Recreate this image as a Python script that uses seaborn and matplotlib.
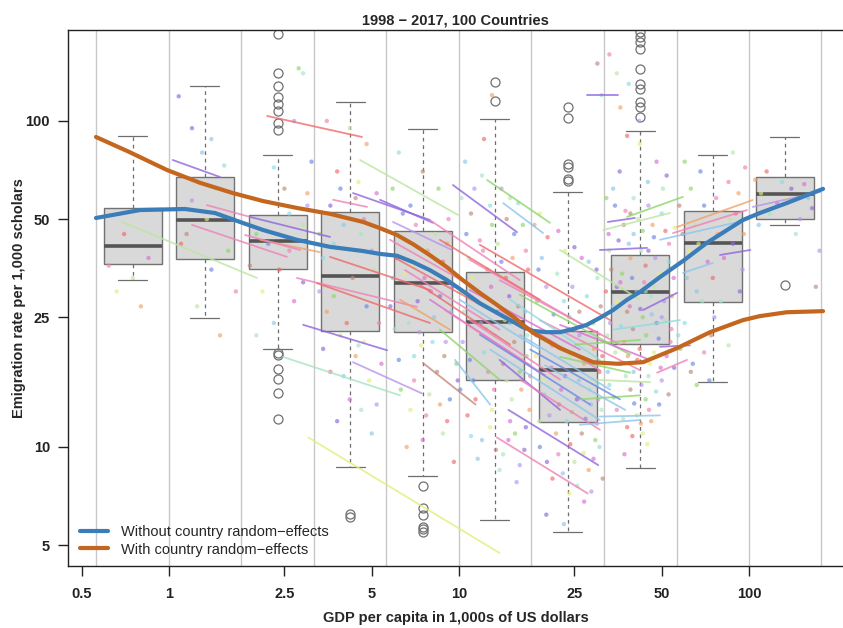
import numpy as np
import pandas as pd
import matplotlib
matplotlib.use("Agg")
import matplotlib.pyplot as plt
import seaborn as sns

sns.set_style("ticks")
plt.rcParams['font.family'] = ['Liberation Sans', 'DejaVu Sans']

# ---------------- data ----------------
title = "1998 \u2212 2017, 100 Countries"
x_label = "GDP per capita in 1,000s of US dollars"
y_label = "Emigration rate per 1,000 scholars"
x_ticks = [0.5, 1, 2.5, 5, 10, 25, 50, 100]
x_tick_labels = ["0.5", "1", "2.5", "5", "10", "25", "50", "100"]
y_ticks = [5, 10, 25, 50, 100]
y_tick_labels = ["5", "10", "25", "50", "100"]

# GDP bin edges (vertical grey lines) and box centres
bin_edges = [0.562, 1.0, 1.778, 3.162, 5.623, 10.0, 17.78, 31.62, 56.23, 100.0, 177.8]
box_centers = [0.75, 1.33, 2.37, 4.22, 7.5, 13.3, 23.7, 42.2, 75.0, 133.0]
box_whislo = [32.5, 24.8, 20.0, 8.7, 8.15, 5.97, 5.47, 8.6, 15.8, 48.0]
box_q1 = [36.4, 37.7, 35.1, 22.7, 22.5, 16.1, 11.9, 20.7, 27.8, 50.1]
box_med = [41.4, 49.7, 42.8, 33.4, 31.9, 24.2, 17.2, 29.9, 42.2, 59.6]
box_q3 = [54.1, 67.2, 51.4, 52.5, 46.0, 34.3, 22.7, 38.8, 53.1, 67.3]
box_whishi = [89.9, 128.0, 78.7, 114.0, 94.3, 101.4, 60.4, 93.2, 78.5, 89.3]
box_fliers = [
    [],
    [],
    [185, 140, 128, 118.7, 112.8, 107.3, 98.4, 93.8, 19.4, 19.2, 17.4, 16.2, 14.6, 12.2],
    [6.24, 6.09],
    [7.6, 6.5, 6.2, 5.7, 5.6, 5.5],
    [131.7, 115.4],
    [110.6, 102.4, 73.6, 72.4, 66.3, 65.6],
    [187, 181, 175, 166, 144, 130, 125, 114.6, 110.6, 103],
    [],
    [31.4],
]

# smoothed curves
blue_gdp = [0.56, 0.794, 1.135, 1.44, 1.757, 2.11, 2.76, 3.59, 4.67, 5.34, 6.11, 6.94, 7.92,
            9.09, 10.3, 11.8, 13.5, 15.4, 16.6, 18.0, 20.1, 22.3, 24.7, 27.6, 30.6, 34.0,
            38.0, 42.1, 49.3, 59.2, 71.6, 95.3, 109, 135, 180]
blue_rate = [50.4, 53.3, 53.7, 52.2, 49.0, 46.3, 43.2, 41.1, 39.9, 39.1, 38.6, 36.9, 34.9,
             32.5, 30.1, 27.6, 25.8, 24.2, 23.3, 22.7, 22.5, 22.5, 23.0, 23.7, 24.9, 26.3,
             28.3, 29.9, 33.2, 37.2, 42.3, 49.7, 52.2, 56.0, 61.9]
orange_gdp = [0.56, 0.73, 0.985, 1.28, 1.66, 2.11, 2.76, 3.59, 4.67, 5.34, 6.11, 6.94, 7.92,
              9.09, 10.3, 11.8, 13.5, 15.4, 16.6, 18.0, 20.1, 22.3, 29.0, 35.1, 43.1, 56.5,
              73.4, 95.3, 109, 135, 180]
orange_rate = [89.3, 80.3, 70.7, 64.6, 60.1, 56.8, 54.1, 51.9, 49.0, 46.9, 44.7, 41.9, 38.8,
               35.6, 32.5, 29.7, 27.3, 25.1, 23.7, 22.4, 21.2, 20.1, 18.2, 18.0, 18.2, 20.1,
               22.5, 24.5, 25.2, 25.9, 26.1]
curve_labels = ["Without country random\u2212effects", "With country random\u2212effects"]

# per-country trajectories (start/end)
seg_gdp_start = [0.689, 1.03, 1.20, 1.35, 1.90, 2.18, 3.68, 4.31, 4.56, 3.59, 2.76, 3.24, 2.90,
                 4.31, 2.47, 3.02, 7.51, 12.5, 9.53, 14.2, 5.34, 5.92, 14.8, 13.5, 27.6, 32.6,
                 30.6, 38.0, 31.4, 56.5, 54.7, 49.3, 59.2, 79.4, 103, 48.2, 49.3, 43.1, 22.3,
                 5.78, 6.02, 6.51, 7.34, 7.94, 8.95, 10.05, 10.9, 11.8, 12.8, 10.9, 11.8, 13.8,
                 16.2, 19.0, 8.59, 9.69, 15.0, 22.3, 6.26, 25.1, 26.1, 30.6, 28.3, 2.06, 1.83,
                 7.92, 8.59, 10.9, 13.8, 16.2, 17.6, 19.8, 13.8, 16.2, 22.3, 34.0, 26.1]
seg_gdp_end = [2.01, 1.50, 2.55, 1.90, 3.59, 4.63, 4.82, 7.94, 9.92, 7.94, 7.16, 7.94, 5.65,
               7.45, 6.26, 13.8, 11.4, 20.6, 15.85, 19.5, 8.13, 9.46, 30.2, 27.8, 35.3, 40.4,
               44.5, 59.2, 53.4, 103, 98.4, 98.4, 75.1, 101, 176, 61.1, 62.6, 56.5, 38.9,
               10.9, 12.8, 13.8, 15.0, 17.6, 19.8, 19.0, 22.3, 28.3, 30.6, 30.6, 33.2, 35.9,
               38.9, 42.1, 13.8, 12.8, 30.6, 45.6, 9.31, 42.1, 42.1, 49.3, 45.6, 3.31, 2.83,
               16.2, 19.0, 26.1, 30.6, 33.2, 35.9, 37.4, 22.3, 30.6, 42.1, 57.8, 42.1]
seg_rate_start = [49.0, 75.9, 48.0, 55.2, 50.8, 103.6, 57.3, 60.1, 75.9, 38.3, 33.0, 31.8, 23.7,
                  18.2, 18.9, 10.7, 18.1, 65.9, 63.6, 56.0, 57.3, 49.0, 13.0, 10.7, 120, 49.0,
                  40.2, 50.8, 46.3, 47.3, 45.3, 43.2, 34.2, 38.8, 54.5, 16.9, 20.3, 26.3, 18.9,
                  43.2, 38.0, 34.9, 31.4, 28.3, 26.3, 28.3, 24.5, 22.1, 19.9, 37.5, 41.7, 32.5,
                  29.3, 24.5, 22.9, 18.5, 28.3, 23.7, 28.3, 20.6, 14.0, 12.4, 16.1, 43.2, 44.7,
                  49.7, 43.2, 30.3, 26.3, 22.1, 19.9, 17.8, 18.5, 16.1, 40.2, 22.9, 11.7]
seg_rate_end = [33.0, 67.3, 38.3, 50.8, 44.1, 89.3, 54.5, 49.7, 51.5, 30.3, 26.9, 24.0, 19.8,
                14.6, 14.4, 4.73, 13.5, 48.7, 45.6, 45.3, 48.7, 40.2, 8.8, 7.2, 120, 50.4,
                40.8, 58.5, 52.2, 57.2, 53.3, 49.7, 36.7, 40.2, 60.6, 18.5, 20.5, 29.7, 16.9,
                31.4, 26.3, 22.9, 20.6, 17.8, 16.6, 19.9, 16.1, 13.5, 12.1, 22.1, 24.5, 20.6,
                19.2, 17.2, 16.1, 13.5, 18.5, 18.5, 22.9, 21.3, 14.4, 12.5, 15.8, 39.6, 40.2,
                32.5, 28.3, 19.9, 17.2, 15.0, 14.0, 13.0, 13.0, 11.3, 28.3, 24.5, 12.1]
seg_color = ["lightgreen", "purple", "pink", "pink", "purple", "red", "pink", "purple",
             "lightgreen", "red", "pink", "red", "purple", "lightpurple", "mint", "yellow",
             "brown", "green", "purple", "lightblue", "purple", "lightpurple", "purple", "pink",
             "purple", "purple", "purple", "green", "lightgreen", "orange", "pink", "lightblue",
             "lightblue", "purple", "lightpurple", "pink", "purple", "purple", "green",
             "pink", "red", "pink", "red", "magenta", "pink", "lightblue", "pink", "blue",
             "lightblue", "pink", "red", "pink", "green", "pink", "green", "lightblue", "cyan",
             "magenta", "orange", "green", "green", "lightblue", "lightgreen", "orange", "pink",
             "pink", "red", "magenta", "pink", "lightblue", "blue", "lightblue", "purple",
             "pink", "lightgreen", "cyan", "lightblue"]

# country-year observations (first set)
point_gdp = [
    0.62, 0.75, 0.80, 0.70, 0.66, 0.85,
    1.08, 1.3, 1.45, 1.2, 1.55, 1.15, 1.6, 1.4, 1.7, 1.25, 1.5, 1.1, 1.35, 1.65, 1.2, 1.4,
    2.9, 2.7, 2.3, 2.5, 2.0, 2.2, 2.6, 2.9, 3.0, 2.4, 2.1, 2.7, 2.9, 2.3, 2.0, 3.0, 2.6, 1.9, 2.8, 3.1,
    3.5, 4.2, 4.8, 3.8, 4.5, 5.2, 3.6, 4.0, 4.6, 5.0, 3.4, 4.3, 3.7, 4.8, 5.3, 3.9, 4.4, 3.6, 4.9,
    4.2, 3.8, 5.0, 4.5, 3.3,
    6.2, 7.5, 8.5, 6.8, 9.2, 6.0, 7.8, 8.8, 6.5, 9.5, 7.2, 8.2, 6.0, 9.0, 7.0, 8.4, 6.3, 9.3, 7.7,
    8.8, 6.6, 9.6, 7.4, 8.0, 5.8,
    10.5, 12, 14, 16, 11, 13, 15.5, 17, 10.8, 12.5, 14.5, 16.5, 11.5, 13.5, 15, 17.2, 10.3, 12.2,
    14.2, 16.2, 11.2, 13.2, 15.2, 17.5, 10.7, 12.8, 14.8, 16.8, 11.6, 13.8, 15.8, 12.4, 16.0, 10.2,
    14.0, 11.8, 15.0, 13.0, 12.2,
    19, 22, 25, 28, 30, 20, 23, 26, 29, 18.5, 21, 24, 27, 30.5, 19.5, 22.5, 25.5, 28.5, 31, 20.5,
    23.5, 26.5, 29.5, 19, 22, 25, 28, 21, 24, 27, 20, 23, 30, 26, 31, 30, 24, 18.8,
    33, 35, 36, 38, 42, 48, 52, 34, 40, 45, 50, 37, 43, 47, 53, 33, 39, 44, 49, 55, 35, 41, 46, 51,
    34, 38, 43, 48, 54, 32.5, 37, 42, 47, 52, 36, 40, 45, 50, 33, 39, 44, 49, 35, 41, 46, 38, 43,
    36, 45, 40, 44, 50, 53, 39,
    60, 70, 85, 65, 78, 90, 62, 72, 88, 66, 80, 95, 60, 74, 58, 64, 70, 85, 92, 75,
    110, 125, 140, 160, 118, 150, 130, 170,
]
point_rate = [
    36, 33, 27, 45, 30, 38,
    119, 80, 62, 57, 73, 45, 40, 35, 30, 27, 22, 42, 50, 50, 95, 88,
    140, 100, 72, 62, 45, 42, 40, 48, 60, 35, 30, 28, 32, 24, 22, 55, 52, 36, 145, 75,
    100, 95, 85, 70, 65, 60, 55, 48, 45, 40, 38, 33, 29, 27, 24, 22, 19, 17, 16,
    14, 12, 11, 20.5, 30,
    80, 70, 62, 55, 50, 45, 40, 37, 34, 31, 28, 25, 23, 21, 19, 17, 15, 14, 12.5,
    11, 10, 9, 20.5, 30, 27,
    75, 68, 62, 56, 52, 48, 45, 40, 38, 35, 33, 30, 28, 26, 24, 22, 21, 19.5,
    18, 17, 16, 15, 14, 13, 12.5, 11.5, 10.5, 9.8, 9.2, 8.5, 7.8, 23, 27, 30,
    37, 43, 58, 120, 88,
    52, 46, 41, 37, 33, 31, 28, 26, 24, 22, 20.5, 19, 18, 17, 16, 15, 14, 13.5, 13, 12.5,
    12, 11, 10.5, 10, 9.5, 9, 8.5, 8, 7.2, 6.8, 6.2, 5.8, 15.5, 22, 120, 150, 25, 35,
    160, 140, 110, 90, 85, 75, 68, 62, 58, 55, 52, 48, 46, 44, 42, 40, 38, 36, 34, 33, 31, 30, 29, 28,
    27, 26, 25, 24, 23, 22, 21, 20, 19.5, 19, 18, 17, 16.5, 16, 15.5, 15, 14, 13.5, 13, 12.5, 12, 11.5, 11,
    32, 40, 45, 30, 25, 37, 52,
    75, 55, 65, 48, 45, 52, 40, 37, 42, 30, 28, 35, 24, 22, 20, 18, 19.5, 20.5, 60, 33,
    60, 56, 62, 58, 52, 50, 65, 31,
]

# country-year observations (second set)
point2_gdp = [
    3.3, 3.9, 4.7, 5.1, 3.5, 4.1, 4.7, 5.4, 3.4, 4.0, 4.6, 5.2, 3.7, 4.4,
    5.9, 6.4, 7.1, 8.3, 9.1, 6.1, 6.9, 7.6, 8.6, 9.4, 6.7, 7.3, 8.1, 8.9, 9.8, 6.2, 7.0, 7.9, 8.6,
    9.1, 6.8, 7.5, 9.9, 5.9,
    10.2, 11.3, 12.8, 14.6, 16.6, 10.6, 12.1, 13.6, 15.3, 17.3, 11.1, 12.9, 14.9, 16.9, 10.4, 11.9,
    13.3, 15.5, 17.1, 10.9, 12.6, 14.6, 16.4, 11.4, 13.0, 15.0, 17.0, 12.0, 14.2, 16.2, 11.0, 13.4,
    15.6, 10.1, 17.6, 14.4,
    18.2, 20.2, 23.2, 26.5, 29.8, 19.3, 21.8, 24.6, 27.6, 30.8, 18.6, 21.2, 23.8, 26.8, 29.2, 31.2,
    18.4, 20.8, 23.2, 25.9, 28.2, 30.2, 19.7, 22.1, 24.5, 27.3, 29.9, 18.9, 21.6, 24.2, 26.9, 29.1,
    20.1, 22.8, 25.6, 28.6, 30.5, 31.3,
    32.2, 34.5, 37.5, 41.5, 46.5, 51.5, 55.5, 32.8, 35.5, 38.5, 42.5, 47.5, 52.5, 33.5, 36.5, 39.5,
    43.5, 47.2, 54.2, 32.1, 35.2, 38.8, 42.2, 46.2, 51.2, 33.2, 36.2, 39.8, 44.2, 48.8, 53.6, 34.6,
    38.2, 41.2, 45.6, 49.6, 55.2, 32.6, 37.6, 42.6, 47.8, 52.8, 34.2, 40.2, 45.2, 36.8, 42.4, 39.6,
    44.6, 37.2, 35.8, 44.8, 50.5, 41.8, 38.5,
    57.5, 63, 68, 77, 86, 96, 59, 67, 82, 93, 61, 69, 76, 57, 63, 66, 73, 97, 88,
    105, 115, 135, 155, 165, 108, 145, 175,
]
point2_rate = [
    45, 62, 50, 35, 26, 24, 21, 18, 20, 16.5, 13, 13.5, 42, 58,
    62, 52, 48, 45, 42, 38, 36, 33, 29, 26, 24, 22.5, 21, 19, 18, 18.5, 16, 14.5, 13.5,
    12, 13, 10.5, 16, 33,
    58, 62, 55, 50, 48, 45, 40, 42, 38, 35, 33, 31, 29, 26, 26, 24,
    22, 21, 19, 18.5, 17, 16, 15, 14, 13, 12, 11.5, 10.5, 9.5, 8.8, 10.8, 9.8,
    11, 15, 16.5, 24.5,
    48, 44, 40, 38, 35, 38, 34, 31, 29, 27, 28, 25.5, 23, 21, 20, 19,
    19, 17.5, 16.5, 16, 15, 14, 14.5, 13.5, 12.8, 12.2, 11.8, 12, 11, 10.2, 9.6, 9.2,
    9, 8.3, 7.6, 7.3, 10, 8,
    58, 55, 53, 50, 48, 46, 47, 45, 43, 42, 40, 38, 35, 35, 34, 33,
    32, 31, 29, 30, 28, 27, 26.5, 25.5, 24.5, 24, 23.5, 23, 22, 21.5, 21, 19.5,
    19, 18.5, 18, 17.5, 17.5, 17, 16.5, 15.5, 14.8, 14.5, 14.2, 13.6, 13, 12.2, 11.8, 10.8,
    10.2, 9.5, 70, 65, 62, 100, 130,
    55, 62, 70, 58, 50, 45, 45, 42, 38, 30, 33, 28, 25, 22, 17, 15.5, 16, 72, 80,
    66, 70, 58, 64, 54, 48, 45, 40,
]
assert len(point_gdp) == len(point_rate) and len(point2_gdp) == len(point2_rate)
assert len(seg_gdp_start) == len(seg_gdp_end) == len(seg_rate_start) == len(seg_rate_end) == len(seg_color)

# ---------------- styles ----------------
palette = {
    "pink": "#EE82B8", "red": "#F06A6A", "purple": "#8F66DD", "lightpurple": "#B895EC",
    "green": "#8ED66A", "lightgreen": "#BCE6A0", "yellow": "#E4EE78", "lightblue": "#8CC6EC",
    "cyan": "#8EDCE0", "blue": "#6A88E6", "orange": "#F2A266", "magenta": "#DA6ED4",
    "mint": "#A6E4C2", "brown": "#C0887A",
}
pal_names = list(palette.keys())
BLUE = "#3A7DB9"
ORANGE = "#C4661E"

fig = plt.figure(figsize=(8.43, 6.28), dpi=100)
ax = fig.add_axes([68 / 843, 1 - 566 / 628, (843 - 68) / 843, (566 - 30) / 628])
ax.set_yscale("log")

# vertical bin separators
for e in bin_edges:
    ax.axvline(np.log10(e), color="#C8C8C8", lw=1.0, zorder=0.5)

# boxplots
stats = []
for i in range(len(box_centers)):
    stats.append(dict(whislo=box_whislo[i], q1=box_q1[i], med=box_med[i], q3=box_q3[i],
                      whishi=box_whishi[i], fliers=box_fliers[i]))
ax.bxp(stats, positions=np.log10(box_centers), widths=0.2, capwidths=0.1,
       patch_artist=True, manage_ticks=False, zorder=1.5,
       boxprops=dict(facecolor="#D9D9D9", edgecolor="#727272", lw=1.0),
       medianprops=dict(color="#555555", lw=2.6, solid_capstyle="butt"),
       whiskerprops=dict(color="#6E6E6E", lw=0.9, ls=(0, (3, 3))),
       capprops=dict(color="#6E6E6E", lw=0.9),
       flierprops=dict(marker="o", mfc="none", mec="#707070", ms=6.5, mew=0.9))

# points
all_gdp = point_gdp + point2_gdp
all_rate = point_rate + point2_rate
pt_df = pd.DataFrame({"lx": np.log10(all_gdp), "rate": all_rate,
                      "c": [pal_names[(i * 5) % len(pal_names)] for i in range(len(all_gdp))]})
sns.scatterplot(data=pt_df, x="lx", y="rate", hue="c", palette=palette, s=10, alpha=0.65,
                linewidth=0, legend=False, ax=ax, zorder=2)

# country trajectories
rows = []
for i in range(len(seg_gdp_start)):
    rows.append((i, np.log10(seg_gdp_start[i]), seg_rate_start[i]))
    rows.append((i, np.log10(seg_gdp_end[i]), seg_rate_end[i]))
seg_df = pd.DataFrame(rows, columns=["seg", "lx", "rate"])
seg_pal = {i: palette[seg_color[i]] for i in range(len(seg_color))}
sns.lineplot(data=seg_df, x="lx", y="rate", hue="seg", units="seg", estimator=None,
             palette=seg_pal, lw=1.3, alpha=0.8, legend=False, ax=ax, sort=False, zorder=2.2)

# smooth curves
sns.lineplot(x=np.log10(blue_gdp), y=blue_rate, color=BLUE, lw=3.0, ax=ax, sort=False,
             label=curve_labels[0], zorder=3)
sns.lineplot(x=np.log10(orange_gdp), y=orange_rate, color=ORANGE, lw=3.0, ax=ax, sort=False,
             label=curve_labels[1], zorder=3.1)

# axes
ax.set_xlim(-0.3483, 2.3241)
ax.set_ylim(4.315, 190.1)
ax.set_xticks(np.log10(x_ticks))
ax.set_xticklabels(x_tick_labels)
ax.set_yticks(y_ticks)
ax.set_yticklabels(y_tick_labels)
ax.yaxis.set_minor_locator(matplotlib.ticker.NullLocator())
ax.xaxis.set_minor_locator(matplotlib.ticker.NullLocator())
for lab in ax.get_xticklabels() + ax.get_yticklabels():
    lab.set_fontweight("bold")
    lab.set_fontsize(10.5)
ax.tick_params(axis="x", bottom=True, length=7, width=1, pad=8, colors="#222222")
ax.tick_params(axis="y", left=True, length=7, width=1, pad=6, colors="#222222")
for s in ["left", "top", "bottom"]:
    ax.spines[s].set_visible(True)
    ax.spines[s].set_color("#222222")
    ax.spines[s].set_linewidth(1.0)
ax.spines["right"].set_visible(False)

ax.set_xlabel(x_label, fontsize=10.5, fontweight="bold", labelpad=7)
ax.set_ylabel(y_label, fontsize=10.5, fontweight="bold", labelpad=-0.5)
ax.set_title(title, fontsize=10.5, fontweight="bold", pad=4)

handles, labels = ax.get_legend_handles_labels()
ax.legend(handles, labels, loc="lower left", bbox_to_anchor=(0.0155, 0.0176), frameon=False,
          fontsize=10.5, handlelength=1.9, handletextpad=0.9, labelspacing=0.25,
          borderpad=0, borderaxespad=0)

fig.savefig("out.png", dpi=100)
